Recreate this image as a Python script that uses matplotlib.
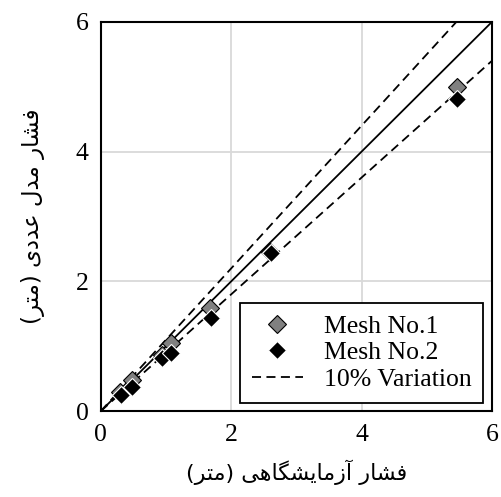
import matplotlib
matplotlib.use("Agg")
import numpy as np
import matplotlib.pyplot as plt

# data
mesh1_x = [0.30, 0.47, 0.93, 1.07, 1.67, 2.60, 5.46]
mesh1_y = [0.30, 0.48, 0.86, 1.05, 1.59, 2.45, 5.00]
mesh2_x = [0.31, 0.48, 0.94, 1.08, 1.69, 2.61, 5.47]
mesh2_y = [0.25, 0.37, 0.81, 0.89, 1.44, 2.43, 4.81]
ticks = [0, 2, 4, 6]
variation = 0.10
xlabel = "فشار آزمایشگاهی (متر)"
ylabel = "فشار مدل عددی (متر)"
legend_labels = ["Mesh No.1", "Mesh No.2", "10% Variation"]

# persian shaping (no arabic_reshaper available): iso, fin, ini, med
forms = {
    "ف": ("\uFED1", "\uFED2", "\uFED3", "\uFED4"),
    "ش": ("\uFEB5", "\uFEB6", "\uFEB7", "\uFEB8"),
    "ا": ("\uFE8D", "\uFE8E", None, None),
    "آ": ("\uFE81", "\uFE82", None, None),
    "ر": ("\uFEAD", "\uFEAE", None, None),
    "ز": ("\uFEAF", "\uFEB0", None, None),
    "د": ("\uFEA9", "\uFEAA", None, None),
    "م": ("\uFEE1", "\uFEE2", "\uFEE3", "\uFEE4"),
    "ی": ("\uFBFC", "\uFBFD", "\uFBFE", "\uFBFF"),
    "گ": ("\uFB92", "\uFB93", "\uFB94", "\uFB95"),
    "ه": ("\uFEE9", "\uFEEA", "\uFEEB", "\uFEEC"),
    "ل": ("\uFEDD", "\uFEDE", "\uFEDF", "\uFEE0"),
    "ع": ("\uFEC9", "\uFECA", "\uFECB", "\uFECC"),
    "ت": ("\uFE95", "\uFE96", "\uFE97", "\uFE98"),
}


def joins_next(c):
    return c in forms and forms[c][2] is not None


def shape(s):
    out = []
    for i, c in enumerate(s):
        if c not in forms:
            out.append(c)
            continue
        prev = s[i - 1] if i > 0 else ""
        nxt = s[i + 1] if i + 1 < len(s) else ""
        from_prev = joins_next(prev)
        to_next = joins_next(c) and nxt in forms
        iso, fin, ini, med = forms[c]
        if from_prev and to_next:
            out.append(med)
        elif from_prev:
            out.append(fin)
        elif to_next:
            out.append(ini)
        else:
            out.append(iso)
    vis = "".join(reversed(out))
    return vis.translate(str.maketrans("()", ")("))


plt.rcParams['font.family'] = ['Liberation Serif', 'DejaVu Sans']
plt.rcParams['font.size'] = 18.5

fig = plt.figure(figsize=(5.02, 4.97), dpi=100)
ax = fig.add_axes([0.201, 0.173, 0.779, 0.783])

line = np.array([0, 6])
ax.plot(line, line, color='black', lw=1.3, zorder=2)
ax.plot(line, line * (1 + variation), color='black', lw=1.3, ls=(0, (5, 3)), zorder=2)
ax.plot(line, line * (1 - variation), color='black', lw=1.3, ls=(0, (5, 3)), zorder=2,
        label=legend_labels[2])

ax.plot(mesh1_x, mesh1_y, 'D', ms=9, mfc='#808080', mec='black', mew=0.8,
        ls='none', zorder=3, label=legend_labels[0])
ax.plot(mesh2_x, mesh2_y, 'D', ms=9.5, mfc='black', mec='white', mew=0.8,
        ls='none', zorder=4, label=legend_labels[1])

ax.set_xlim(0, 6)
ax.set_ylim(0, 6)
ax.set_xticks(ticks)
ax.set_yticks(ticks)
ax.tick_params(length=0, pad=9)
ax.grid(True, color='#d9d9d9', lw=1.3)
ax.set_axisbelow(True)
for sp in ax.spines.values():
    sp.set_linewidth(1.5)

ax.set_xlabel(shape(xlabel), family='DejaVu Sans', fontsize=16, labelpad=10)
ax.set_ylabel(shape(ylabel), family='DejaVu Sans', fontsize=16.5, labelpad=22)

h, l = ax.get_legend_handles_labels()
order = [1, 2, 0]
leg = ax.legend([h[i] for i in order], [l[i] for i in order], loc='lower right',
                bbox_to_anchor=(0.99, 0.008), frameon=True, fancybox=False,
                edgecolor='black', framealpha=1, borderpad=0.45, labelspacing=0.15,
                handlelength=2.0, handletextpad=0.8, borderaxespad=0.2)
leg.get_frame().set_linewidth(1.3)

fig.savefig("out.png", dpi=100)
